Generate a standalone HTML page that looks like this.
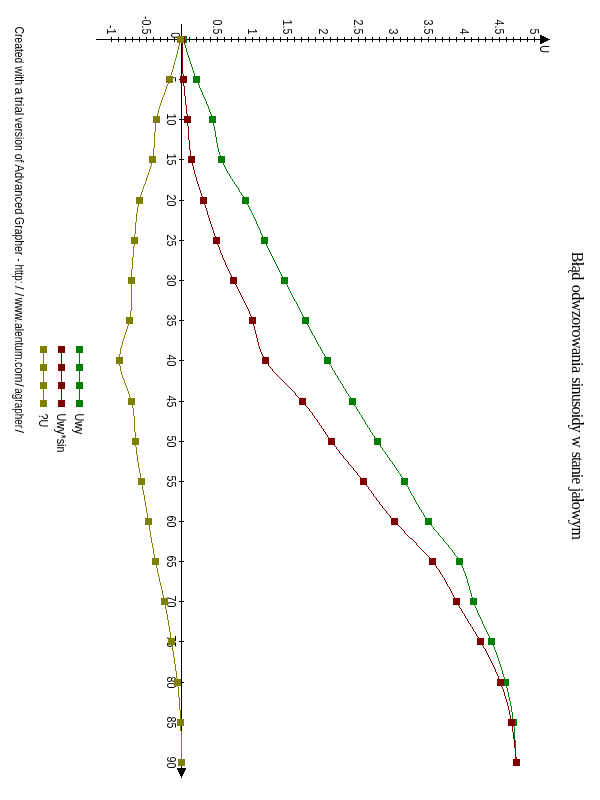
<!DOCTYPE html>
<html><head><meta charset="utf-8"><title>Graph</title>
<style>html,body{margin:0;padding:0;background:#fff;}body{width:600px;height:800px;overflow:hidden;}svg{display:block;will-change:transform;}text{font-family:"Liberation Sans",sans-serif;font-size:12.5px;fill:#000;}.ser{font-family:"Liberation Serif",serif;font-size:16px;}</style></head><body>
<svg width="600" height="800" viewBox="0 0 600 800">
<rect width="600" height="800" fill="#fff"/>
<g shape-rendering="crispEdges" fill="#000">
<rect x="96" y="39" width="454" height="1"/>
<rect x="181" y="24" width="1" height="754"/>
<rect x="111" y="37" width="1" height="5"/>
<rect x="118" y="37" width="1" height="5"/>
<rect x="125" y="37" width="1" height="5"/>
<rect x="132" y="37" width="1" height="5"/>
<rect x="139" y="37" width="1" height="5"/>
<rect x="146" y="37" width="1" height="5"/>
<rect x="153" y="37" width="1" height="5"/>
<rect x="160" y="37" width="1" height="5"/>
<rect x="167" y="37" width="1" height="5"/>
<rect x="174" y="37" width="1" height="5"/>
<rect x="189" y="37" width="1" height="5"/>
<rect x="196" y="37" width="1" height="5"/>
<rect x="203" y="37" width="1" height="5"/>
<rect x="210" y="37" width="1" height="5"/>
<rect x="217" y="37" width="1" height="5"/>
<rect x="224" y="37" width="1" height="5"/>
<rect x="231" y="37" width="1" height="5"/>
<rect x="238" y="37" width="1" height="5"/>
<rect x="245" y="37" width="1" height="5"/>
<rect x="252" y="37" width="1" height="5"/>
<rect x="259" y="37" width="1" height="5"/>
<rect x="266" y="37" width="1" height="5"/>
<rect x="273" y="37" width="1" height="5"/>
<rect x="280" y="37" width="1" height="5"/>
<rect x="287" y="37" width="1" height="5"/>
<rect x="294" y="37" width="1" height="5"/>
<rect x="301" y="37" width="1" height="5"/>
<rect x="308" y="37" width="1" height="5"/>
<rect x="315" y="37" width="1" height="5"/>
<rect x="323" y="37" width="1" height="5"/>
<rect x="330" y="37" width="1" height="5"/>
<rect x="337" y="37" width="1" height="5"/>
<rect x="344" y="37" width="1" height="5"/>
<rect x="351" y="37" width="1" height="5"/>
<rect x="358" y="37" width="1" height="5"/>
<rect x="365" y="37" width="1" height="5"/>
<rect x="372" y="37" width="1" height="5"/>
<rect x="379" y="37" width="1" height="5"/>
<rect x="386" y="37" width="1" height="5"/>
<rect x="393" y="37" width="1" height="5"/>
<rect x="400" y="37" width="1" height="5"/>
<rect x="407" y="37" width="1" height="5"/>
<rect x="414" y="37" width="1" height="5"/>
<rect x="421" y="37" width="1" height="5"/>
<rect x="428" y="37" width="1" height="5"/>
<rect x="435" y="37" width="1" height="5"/>
<rect x="442" y="37" width="1" height="5"/>
<rect x="449" y="37" width="1" height="5"/>
<rect x="456" y="37" width="1" height="5"/>
<rect x="464" y="37" width="1" height="5"/>
<rect x="471" y="37" width="1" height="5"/>
<rect x="478" y="37" width="1" height="5"/>
<rect x="485" y="37" width="1" height="5"/>
<rect x="492" y="37" width="1" height="5"/>
<rect x="499" y="37" width="1" height="5"/>
<rect x="506" y="37" width="1" height="5"/>
<rect x="513" y="37" width="1" height="5"/>
<rect x="520" y="37" width="1" height="5"/>
<rect x="527" y="37" width="1" height="5"/>
<rect x="534" y="37" width="1" height="5"/>
<rect x="179" y="79" width="5" height="1"/>
<rect x="179" y="119" width="5" height="1"/>
<rect x="179" y="159" width="5" height="1"/>
<rect x="179" y="200" width="5" height="1"/>
<rect x="179" y="240" width="5" height="1"/>
<rect x="179" y="280" width="5" height="1"/>
<rect x="179" y="320" width="5" height="1"/>
<rect x="179" y="360" width="5" height="1"/>
<rect x="179" y="401" width="5" height="1"/>
<rect x="179" y="441" width="5" height="1"/>
<rect x="179" y="481" width="5" height="1"/>
<rect x="179" y="521" width="5" height="1"/>
<rect x="179" y="561" width="5" height="1"/>
<rect x="179" y="601" width="5" height="1"/>
<rect x="179" y="641" width="5" height="1"/>
<rect x="179" y="682" width="5" height="1"/>
<rect x="179" y="722" width="5" height="1"/>
<rect x="179" y="762" width="5" height="1"/>
</g>
<path d="M540 35h2v1h2v1h2v1h2v1h2v1h-2v1h-2v1h-2v1h-2v1h-2z" fill="#000" shape-rendering="crispEdges"/>
<path d="M177 768v2h1v2h1v2h1v2h1v2h1v-2h1v-2h1v-2h1v-2h1v-2z" fill="#000" shape-rendering="crispEdges"/>
<text transform="translate(107,34.5) rotate(90) scale(0.86,1)" text-anchor="end">-1</text>
<text transform="translate(142,34.5) rotate(90) scale(0.86,1)" text-anchor="end">-0.5</text>
<text transform="translate(213,34.5) rotate(90) scale(0.86,1)" text-anchor="end">0.5</text>
<text transform="translate(248,34.5) rotate(90) scale(0.86,1)" text-anchor="end">1</text>
<text transform="translate(283,34.5) rotate(90) scale(0.86,1)" text-anchor="end">1.5</text>
<text transform="translate(319,34.5) rotate(90) scale(0.86,1)" text-anchor="end">2</text>
<text transform="translate(354,34.5) rotate(90) scale(0.86,1)" text-anchor="end">2.5</text>
<text transform="translate(389,34.5) rotate(90) scale(0.86,1)" text-anchor="end">3</text>
<text transform="translate(424,34.5) rotate(90) scale(0.86,1)" text-anchor="end">3.5</text>
<text transform="translate(460,34.5) rotate(90) scale(0.86,1)" text-anchor="end">4</text>
<text transform="translate(495,34.5) rotate(90) scale(0.86,1)" text-anchor="end">4.5</text>
<text transform="translate(530,34.5) rotate(90) scale(0.86,1)" text-anchor="end">5</text>
<text transform="translate(171,38.3) rotate(90) scale(0.86,1)" text-anchor="end">0</text>
<text transform="translate(540,45.3) rotate(90) scale(0.86,1)" text-anchor="start">U</text>
<text transform="translate(167,79.5) rotate(90) scale(0.86,1)" text-anchor="middle">5</text>
<text transform="translate(167,119.5) rotate(90) scale(0.86,1)" text-anchor="middle">10</text>
<text transform="translate(167,159.5) rotate(90) scale(0.86,1)" text-anchor="middle">15</text>
<text transform="translate(167,200.5) rotate(90) scale(0.86,1)" text-anchor="middle">20</text>
<text transform="translate(167,240.5) rotate(90) scale(0.86,1)" text-anchor="middle">25</text>
<text transform="translate(167,280.5) rotate(90) scale(0.86,1)" text-anchor="middle">30</text>
<text transform="translate(167,320.5) rotate(90) scale(0.86,1)" text-anchor="middle">35</text>
<text transform="translate(167,360.5) rotate(90) scale(0.86,1)" text-anchor="middle">40</text>
<text transform="translate(167,401.5) rotate(90) scale(0.86,1)" text-anchor="middle">45</text>
<text transform="translate(167,441.5) rotate(90) scale(0.86,1)" text-anchor="middle">50</text>
<text transform="translate(167,481.5) rotate(90) scale(0.86,1)" text-anchor="middle">55</text>
<text transform="translate(167,521.5) rotate(90) scale(0.86,1)" text-anchor="middle">60</text>
<text transform="translate(167,561.5) rotate(90) scale(0.86,1)" text-anchor="middle">65</text>
<text transform="translate(167,601.5) rotate(90) scale(0.86,1)" text-anchor="middle">70</text>
<text transform="translate(167,641.5) rotate(90) scale(0.86,1)" text-anchor="middle">75</text>
<text transform="translate(167,682.5) rotate(90) scale(0.86,1)" text-anchor="middle">80</text>
<text transform="translate(167,722.5) rotate(90) scale(0.86,1)" text-anchor="middle">85</text>
<text transform="translate(167,762.5) rotate(90) scale(0.86,1)" text-anchor="middle">90</text>
<path d="M183.5 39v2M184.5 41v4M185.5 45v3M186.5 48v4M187.5 52v3M188.5 55v3M189.5 58v3M190.5 61v3M191.5 64v3M192.5 67v3M193.5 70v3M194.5 73v3M195.5 76v2M196.5 78v3M197.5 81v2M198.5 83v2M199.5 85v3M200.5 88v2M201.5 90v2M202.5 92v3M203.5 95v2M204.5 97v2M205.5 99v2M206.5 101v3M207.5 104v2M208.5 106v3M209.5 109v3M210.5 112v2M211.5 114v4M212.5 118v3M213.5 121v5M214.5 126v5M215.5 131v6M216.5 137v6M217.5 143v5M218.5 148v4M219.5 152v3M220.5 155v3M221.5 158v3M222.5 161v2M223.5 163v2M224.5 165v2M225.5 167v2M226.5 169v2M227.5 171v2M228.5 173v1M229.5 174v2M230.5 176v2M231.5 178v1M232.5 179v2M233.5 181v1M234.5 182v2M235.5 184v1M236.5 185v2M237.5 187v1M238.5 188v2M239.5 190v2M240.5 192v1M241.5 193v2M242.5 195v1M243.5 196v2M244.5 198v2M245.5 200v1M246.5 201v2M247.5 203v2M248.5 205v2M249.5 207v2M250.5 209v2M251.5 211v2M252.5 213v2M253.5 215v2M254.5 217v2M255.5 219v2M256.5 221v3M257.5 224v2M258.5 226v2M259.5 228v2M260.5 230v3M261.5 233v2M262.5 235v2M263.5 237v2M264.5 239v3M265.5 242v2M266.5 244v2M267.5 246v2M268.5 248v2M269.5 250v2M270.5 252v2M271.5 254v2M272.5 256v2M273.5 258v2M274.5 260v2M275.5 262v2M276.5 264v2M277.5 266v2M278.5 268v2M279.5 270v2M280.5 272v2M281.5 274v2M282.5 276v2M283.5 278v2M284.5 280v1M285.5 281v2M286.5 283v2M287.5 285v2M288.5 287v2M289.5 289v2M290.5 291v2M291.5 293v2M292.5 295v2M293.5 297v2M294.5 299v2M295.5 301v1M296.5 302v2M297.5 304v2M298.5 306v2M299.5 308v2M300.5 310v2M301.5 312v2M302.5 314v2M303.5 316v2M304.5 318v2M305.5 320v1M306.5 321v2M307.5 323v2M308.5 325v2M309.5 327v2M310.5 329v2M311.5 331v2M312.5 333v2M313.5 335v1M314.5 336v2M315.5 338v2M316.5 340v2M317.5 342v2M318.5 344v2M319.5 346v1M320.5 347v2M321.5 349v2M322.5 351v2M323.5 353v1M324.5 354v2M325.5 356v2M326.5 358v2M327.5 360v1M328.5 361v2M329.5 363v2M330.5 365v1M331.5 366v2M332.5 368v2M333.5 370v1M334.5 371v2M335.5 373v2M336.5 375v1M337.5 376v2M338.5 378v2M339.5 380v1M340.5 381v2M341.5 383v1M342.5 384v2M343.5 386v2M344.5 388v1M345.5 389v2M346.5 391v2M347.5 393v1M348.5 394v2M349.5 396v1M350.5 397v2M351.5 399v2M352.5 401v1M353.5 402v2M354.5 404v2M355.5 406v1M356.5 407v2M357.5 409v2M358.5 411v1M359.5 412v2M360.5 414v1M361.5 415v2M362.5 417v2M363.5 419v1M364.5 420v2M365.5 422v2M366.5 424v1M367.5 425v2M368.5 427v1M369.5 428v2M370.5 430v2M371.5 432v1M372.5 433v2M373.5 435v1M374.5 436v2M375.5 438v1M376.5 439v2M377.5 441v1M378.5 442v2M379.5 444v1M380.5 445v2M381.5 447v1M382.5 448v2M383.5 450v1M384.5 451v1M385.5 452v2M386.5 454v1M387.5 455v2M388.5 457v1M389.5 458v2M390.5 460v1M391.5 461v1M392.5 462v2M393.5 464v1M394.5 465v2M395.5 467v1M396.5 468v2M397.5 470v1M398.5 471v2M399.5 473v1M400.5 474v2M401.5 476v1M402.5 477v2M403.5 479v2M404.5 481v1M405.5 482v2M406.5 484v2M407.5 486v1M408.5 487v2M409.5 489v2M410.5 491v2M411.5 493v2M412.5 495v1M413.5 496v2M414.5 498v2M415.5 500v2M416.5 502v2M417.5 504v1M418.5 505v2M419.5 507v2M420.5 509v1M421.5 510v2M422.5 512v1M423.5 513v2M424.5 515v2M425.5 517v1M426.5 518v1M427.5 519v2M428.5 521v1M429.5 522v1M430.5 523v2M431.5 525v1M432.5 526v1M433.5 527v2M434.5 529v1M435.5 530v1M436.5 531v1M437.5 532v1M438.5 533v2M439.5 535v1M440.5 536v1M441.5 537v1M442.5 538v1M443.5 539v2M444.5 541v1M445.5 542v1M446.5 543v1M447.5 544v1M448.5 545v2M449.5 547v1M450.5 548v1M451.5 549v1M452.5 550v2M453.5 552v1M454.5 553v2M455.5 555v1M456.5 556v1M457.5 557v2M458.5 559v2M459.5 561v1M460.5 562v2M461.5 564v2M462.5 566v2M463.5 568v3M464.5 571v2M465.5 573v3M466.5 576v3M467.5 579v4M468.5 583v3M469.5 586v4M470.5 590v3M471.5 593v4M472.5 597v3M473.5 600v3M474.5 603v3M475.5 606v2M476.5 608v2M477.5 610v3M478.5 613v2M479.5 615v2M480.5 617v2M481.5 619v2M482.5 621v3M483.5 624v2M484.5 626v2M485.5 628v2M486.5 630v2M487.5 632v2M488.5 634v2M489.5 636v2M490.5 638v2M491.5 640v3M492.5 643v2M493.5 645v2M494.5 647v3M495.5 650v2M496.5 652v3M497.5 655v3M498.5 658v3M499.5 661v3M500.5 664v3M501.5 667v3M502.5 670v4M503.5 674v3M504.5 677v4M505.5 681v3M506.5 684v4M507.5 688v4M508.5 692v5M509.5 697v4M510.5 701v5M511.5 706v6M512.5 712v7M513.5 719v8M514.5 727v13M515.5 740v23" fill="none" stroke="#008000" stroke-width="1" shape-rendering="crispEdges"/>
<rect x="180" y="36" width="7" height="7" fill="#008000" shape-rendering="crispEdges"/>
<rect x="193" y="76" width="7" height="7" fill="#008000" shape-rendering="crispEdges"/>
<rect x="209" y="116" width="7" height="7" fill="#008000" shape-rendering="crispEdges"/>
<rect x="218" y="156" width="7" height="7" fill="#008000" shape-rendering="crispEdges"/>
<rect x="242" y="197" width="7" height="7" fill="#008000" shape-rendering="crispEdges"/>
<rect x="261" y="237" width="7" height="7" fill="#008000" shape-rendering="crispEdges"/>
<rect x="281" y="277" width="7" height="7" fill="#008000" shape-rendering="crispEdges"/>
<rect x="302" y="317" width="7" height="7" fill="#008000" shape-rendering="crispEdges"/>
<rect x="324" y="357" width="7" height="7" fill="#008000" shape-rendering="crispEdges"/>
<rect x="349" y="398" width="7" height="7" fill="#008000" shape-rendering="crispEdges"/>
<rect x="374" y="438" width="7" height="7" fill="#008000" shape-rendering="crispEdges"/>
<rect x="401" y="478" width="7" height="7" fill="#008000" shape-rendering="crispEdges"/>
<rect x="425" y="518" width="7" height="7" fill="#008000" shape-rendering="crispEdges"/>
<rect x="456" y="558" width="7" height="7" fill="#008000" shape-rendering="crispEdges"/>
<rect x="470" y="598" width="7" height="7" fill="#008000" shape-rendering="crispEdges"/>
<rect x="488" y="638" width="7" height="7" fill="#008000" shape-rendering="crispEdges"/>
<rect x="502" y="679" width="7" height="7" fill="#008000" shape-rendering="crispEdges"/>
<rect x="510" y="719" width="7" height="7" fill="#008000" shape-rendering="crispEdges"/>
<rect x="513" y="759" width="7" height="7" fill="#008000" shape-rendering="crispEdges"/>
<path d="M182.5 39v35M183.5 74v12M184.5 86v10M185.5 96v9M186.5 105v9M187.5 114v12M188.5 126v14M189.5 140v10M190.5 150v7M191.5 157v5M192.5 162v4M193.5 166v4M194.5 170v4M195.5 174v3M196.5 177v4M197.5 181v3M198.5 184v3M199.5 187v3M200.5 190v3M201.5 193v3M202.5 196v3M203.5 199v3M204.5 202v3M205.5 205v3M206.5 208v3M207.5 211v4M208.5 215v3M209.5 218v3M210.5 221v3M211.5 224v3M212.5 227v3M213.5 230v3M214.5 233v3M215.5 236v3M216.5 239v3M217.5 242v3M218.5 245v2M219.5 247v3M220.5 250v3M221.5 253v2M222.5 255v3M223.5 258v2M224.5 260v2M225.5 262v3M226.5 265v2M227.5 267v2M228.5 269v2M229.5 271v2M230.5 273v2M231.5 275v2M232.5 277v3M233.5 280v1M234.5 281v2M235.5 283v2M236.5 285v2M237.5 287v2M238.5 289v2M239.5 291v2M240.5 293v2M241.5 295v2M242.5 297v2M243.5 299v2M244.5 301v2M245.5 303v2M246.5 305v2M247.5 307v2M248.5 309v2M249.5 311v3M250.5 314v2M251.5 316v3M252.5 319v3M253.5 322v4M254.5 326v4M255.5 330v4M256.5 334v4M257.5 338v4M258.5 342v4M259.5 346v3M260.5 349v3M261.5 352v2M262.5 354v2M263.5 356v2M264.5 358v2M265.5 360v1M266.5 361v2M267.5 363v1M268.5 364v2M269.5 366v1M270.5 367v1M271.5 368v1M272.5 369v2M273.5 371v1M274.5 372v1M275.5 373v1M276.5 374v1M277.5 375v1M278.5 376v1M279.5 377v1M280.5 378v1M281.5 379v1M282.5 380v1M283.5 381v1M284.5 382v1M285.5 383v1M286.5 384v1M287.5 385v1M288.5 386v1M289.5 387v1M290.5 388v1M291.5 389v1M292.5 390v1M293.5 391v1M294.5 392v1M295.5 393v2M296.5 395v1M297.5 396v1M298.5 397v1M299.5 398v1M300.5 399v1M301.5 400v1M302.5 401v1M303.5 402v1M304.5 403v1M305.5 404v2M306.5 406v1M307.5 407v1M308.5 408v1M309.5 409v2M310.5 411v1M311.5 412v1M312.5 413v2M313.5 415v1M314.5 416v2M315.5 418v1M316.5 419v1M317.5 420v2M318.5 422v1M319.5 423v2M320.5 425v1M321.5 426v2M322.5 428v1M323.5 429v2M324.5 431v1M325.5 432v2M326.5 434v1M327.5 435v2M328.5 437v1M329.5 438v1M330.5 439v2M331.5 441v1M332.5 442v2M333.5 444v1M334.5 445v1M335.5 446v1M336.5 447v2M337.5 449v1M338.5 450v1M339.5 451v2M340.5 453v1M341.5 454v1M342.5 455v1M343.5 456v2M344.5 458v1M345.5 459v1M346.5 460v1M347.5 461v1M348.5 462v2M349.5 464v1M350.5 465v1M351.5 466v1M352.5 467v1M353.5 468v2M354.5 470v1M355.5 471v1M356.5 472v1M357.5 473v2M358.5 475v1M359.5 476v1M360.5 477v1M361.5 478v2M362.5 480v1M363.5 481v1M364.5 482v1M365.5 483v2M366.5 485v1M367.5 486v1M368.5 487v2M369.5 489v1M370.5 490v1M371.5 491v2M372.5 493v1M373.5 494v2M374.5 496v1M375.5 497v1M376.5 498v2M377.5 500v1M378.5 501v1M379.5 502v2M380.5 504v1M381.5 505v1M382.5 506v2M383.5 508v1M384.5 509v1M385.5 510v1M386.5 511v2M387.5 513v1M388.5 514v1M389.5 515v1M390.5 516v2M391.5 518v1M392.5 519v1M393.5 520v1M394.5 521v1M395.5 522v1M396.5 523v1M397.5 524v1M398.5 525v1M399.5 526v1M400.5 527v1M401.5 528v1M402.5 529v1M403.5 530v1M404.5 531v2M405.5 533v1M406.5 534v1M407.5 535v1M408.5 536v1M409.5 537v1M410.5 538v1M411.5 538v1M412.5 539v1M413.5 540v1M414.5 541v1M415.5 542v1M416.5 543v2M417.5 545v1M418.5 546v1M419.5 547v1M420.5 548v1M421.5 549v1M422.5 550v1M423.5 551v1M424.5 552v1M425.5 553v1M426.5 554v1M427.5 555v1M428.5 556v1M429.5 557v1M430.5 558v2M431.5 560v1M432.5 561v1M433.5 562v1M434.5 563v2M435.5 565v1M436.5 566v2M437.5 568v1M438.5 569v1M439.5 570v2M440.5 572v2M441.5 574v1M442.5 575v2M443.5 577v1M444.5 578v2M445.5 580v2M446.5 582v2M447.5 584v2M448.5 586v1M449.5 587v2M450.5 589v2M451.5 591v2M452.5 593v2M453.5 595v2M454.5 597v2M455.5 599v2M456.5 601v1M457.5 602v2M458.5 604v2M459.5 606v2M460.5 608v1M461.5 609v2M462.5 611v2M463.5 613v1M464.5 614v2M465.5 616v2M466.5 618v1M467.5 619v2M468.5 621v2M469.5 623v1M470.5 624v2M471.5 626v1M472.5 627v2M473.5 629v2M474.5 631v1M475.5 632v2M476.5 634v2M477.5 636v1M478.5 637v2M479.5 639v2M480.5 641v1M481.5 642v2M482.5 644v2M483.5 646v2M484.5 648v1M485.5 649v2M486.5 651v2M487.5 653v2M488.5 655v2M489.5 657v2M490.5 659v2M491.5 661v2M492.5 663v2M493.5 665v2M494.5 667v2M495.5 669v3M496.5 672v2M497.5 674v2M498.5 676v3M499.5 679v2M500.5 681v3M501.5 684v3M502.5 687v2M503.5 689v3M504.5 692v4M505.5 696v3M506.5 699v3M507.5 702v4M508.5 706v4M509.5 710v5M510.5 715v5M511.5 720v5M512.5 725v7M513.5 732v7M514.5 739v9M515.5 748v9M516.5 757v6" fill="none" stroke="#800000" stroke-width="1" shape-rendering="crispEdges"/>
<rect x="178" y="36" width="7" height="7" fill="#800000" shape-rendering="crispEdges"/>
<rect x="180" y="76" width="7" height="7" fill="#800000" shape-rendering="crispEdges"/>
<rect x="184" y="116" width="7" height="7" fill="#800000" shape-rendering="crispEdges"/>
<rect x="188" y="156" width="7" height="7" fill="#800000" shape-rendering="crispEdges"/>
<rect x="200" y="197" width="7" height="7" fill="#800000" shape-rendering="crispEdges"/>
<rect x="213" y="237" width="7" height="7" fill="#800000" shape-rendering="crispEdges"/>
<rect x="230" y="277" width="7" height="7" fill="#800000" shape-rendering="crispEdges"/>
<rect x="249" y="317" width="7" height="7" fill="#800000" shape-rendering="crispEdges"/>
<rect x="262" y="357" width="7" height="7" fill="#800000" shape-rendering="crispEdges"/>
<rect x="299" y="398" width="7" height="7" fill="#800000" shape-rendering="crispEdges"/>
<rect x="328" y="438" width="7" height="7" fill="#800000" shape-rendering="crispEdges"/>
<rect x="360" y="478" width="7" height="7" fill="#800000" shape-rendering="crispEdges"/>
<rect x="391" y="518" width="7" height="7" fill="#800000" shape-rendering="crispEdges"/>
<rect x="429" y="558" width="7" height="7" fill="#800000" shape-rendering="crispEdges"/>
<rect x="453" y="598" width="7" height="7" fill="#800000" shape-rendering="crispEdges"/>
<rect x="477" y="638" width="7" height="7" fill="#800000" shape-rendering="crispEdges"/>
<rect x="497" y="679" width="7" height="7" fill="#800000" shape-rendering="crispEdges"/>
<rect x="508" y="719" width="7" height="7" fill="#800000" shape-rendering="crispEdges"/>
<rect x="513" y="759" width="7" height="7" fill="#800000" shape-rendering="crispEdges"/>
<path d="M119.5 354v12M120.5 348v6M120.5 366v5M121.5 345v3M121.5 371v4M122.5 341v4M122.5 375v3M123.5 338v3M123.5 378v2M124.5 335v3M124.5 380v3M125.5 332v3M125.5 383v3M126.5 329v3M126.5 386v2M127.5 326v3M127.5 388v3M128.5 323v3M128.5 391v3M129.5 318v5M129.5 394v3M130.5 311v7M130.5 397v3M131.5 269v42M131.5 400v3M132.5 257v12M132.5 403v5M133.5 246v11M133.5 408v8M134.5 234v12M134.5 416v16M135.5 222v12M135.5 432v15M136.5 213v9M136.5 447v8M137.5 207v6M137.5 455v7M138.5 203v4M138.5 462v6M139.5 199v4M139.5 468v5M140.5 195v4M140.5 473v6M141.5 192v3M141.5 479v5M142.5 189v3M142.5 484v6M143.5 186v3M143.5 490v5M144.5 184v2M144.5 495v6M145.5 181v3M145.5 501v6M146.5 178v3M146.5 507v6M147.5 175v3M147.5 513v5M148.5 172v3M148.5 518v7M149.5 169v3M149.5 525v6M150.5 166v3M150.5 531v6M151.5 162v4M151.5 537v6M152.5 157v5M152.5 543v5M153.5 148v9M153.5 548v6M154.5 132v16M154.5 554v5M155.5 123v9M155.5 559v5M156.5 117v6M156.5 564v4M157.5 113v4M157.5 568v5M158.5 109v4M158.5 573v4M159.5 106v3M159.5 577v5M160.5 103v3M160.5 582v4M161.5 100v3M161.5 586v4M162.5 97v3M162.5 590v5M163.5 95v2M163.5 595v4M164.5 92v3M164.5 599v5M165.5 89v3M165.5 604v5M166.5 86v3M166.5 609v5M167.5 84v2M167.5 614v6M168.5 81v3M168.5 620v6M169.5 78v3M169.5 626v6M170.5 75v3M170.5 632v6M171.5 72v3M171.5 638v7M172.5 69v3M172.5 645v6M173.5 65v4M173.5 651v6M174.5 61v4M174.5 657v7M175.5 58v3M175.5 664v7M176.5 54v4M176.5 671v7M177.5 50v4M177.5 678v9M178.5 46v4M178.5 687v10M179.5 42v4M179.5 697v13M180.5 39v3M180.5 710v21M181.5 731v32" fill="none" stroke="#808000" stroke-width="1" shape-rendering="crispEdges"/>
<rect x="177" y="36" width="7" height="7" fill="#808000" shape-rendering="crispEdges"/>
<rect x="166" y="76" width="7" height="7" fill="#808000" shape-rendering="crispEdges"/>
<rect x="153" y="116" width="7" height="7" fill="#808000" shape-rendering="crispEdges"/>
<rect x="149" y="156" width="7" height="7" fill="#808000" shape-rendering="crispEdges"/>
<rect x="136" y="197" width="7" height="7" fill="#808000" shape-rendering="crispEdges"/>
<rect x="131" y="237" width="7" height="7" fill="#808000" shape-rendering="crispEdges"/>
<rect x="128" y="277" width="7" height="7" fill="#808000" shape-rendering="crispEdges"/>
<rect x="126" y="317" width="7" height="7" fill="#808000" shape-rendering="crispEdges"/>
<rect x="116" y="357" width="7" height="7" fill="#808000" shape-rendering="crispEdges"/>
<rect x="128" y="398" width="7" height="7" fill="#808000" shape-rendering="crispEdges"/>
<rect x="132" y="438" width="7" height="7" fill="#808000" shape-rendering="crispEdges"/>
<rect x="138" y="478" width="7" height="7" fill="#808000" shape-rendering="crispEdges"/>
<rect x="145" y="518" width="7" height="7" fill="#808000" shape-rendering="crispEdges"/>
<rect x="152" y="558" width="7" height="7" fill="#808000" shape-rendering="crispEdges"/>
<rect x="161" y="598" width="7" height="7" fill="#808000" shape-rendering="crispEdges"/>
<rect x="168" y="638" width="7" height="7" fill="#808000" shape-rendering="crispEdges"/>
<rect x="174" y="679" width="7" height="7" fill="#808000" shape-rendering="crispEdges"/>
<rect x="177" y="719" width="7" height="7" fill="#808000" shape-rendering="crispEdges"/>
<rect x="178" y="759" width="7" height="7" fill="#808000" shape-rendering="crispEdges"/>
<rect x="79" y="349" width="1" height="55" fill="#008000" shape-rendering="crispEdges"/>
<rect x="76" y="346" width="7" height="7" fill="#008000" shape-rendering="crispEdges"/>
<rect x="76" y="364" width="7" height="7" fill="#008000" shape-rendering="crispEdges"/>
<rect x="76" y="382" width="7" height="7" fill="#008000" shape-rendering="crispEdges"/>
<rect x="76" y="400" width="7" height="7" fill="#008000" shape-rendering="crispEdges"/>
<text transform="translate(75,413.6) rotate(90) scale(0.86,1)" text-anchor="start">Uwy</text>
<rect x="61" y="349" width="1" height="55" fill="#800000" shape-rendering="crispEdges"/>
<rect x="58" y="346" width="7" height="7" fill="#800000" shape-rendering="crispEdges"/>
<rect x="58" y="364" width="7" height="7" fill="#800000" shape-rendering="crispEdges"/>
<rect x="58" y="382" width="7" height="7" fill="#800000" shape-rendering="crispEdges"/>
<rect x="58" y="400" width="7" height="7" fill="#800000" shape-rendering="crispEdges"/>
<text transform="translate(57,413.6) rotate(90) scale(0.86,1)" text-anchor="start">Uwy*sin</text>
<rect x="43" y="349" width="1" height="55" fill="#808000" shape-rendering="crispEdges"/>
<rect x="40" y="346" width="7" height="7" fill="#808000" shape-rendering="crispEdges"/>
<rect x="40" y="364" width="7" height="7" fill="#808000" shape-rendering="crispEdges"/>
<rect x="40" y="382" width="7" height="7" fill="#808000" shape-rendering="crispEdges"/>
<rect x="40" y="400" width="7" height="7" fill="#808000" shape-rendering="crispEdges"/>
<text transform="translate(39,413.6) rotate(90) scale(0.86,1)" text-anchor="start">?U</text>
<text transform="translate(15,0) rotate(90)"><tspan x="26.4" textLength="37.0" lengthAdjust="spacingAndGlyphs">Created</tspan> <tspan x="66.3" textLength="18.8" lengthAdjust="spacingAndGlyphs">with</tspan> <tspan x="87.5" textLength="6.9" lengthAdjust="spacingAndGlyphs">a</tspan> <tspan x="96.8" textLength="18.6" lengthAdjust="spacingAndGlyphs">trial</tspan> <tspan x="117.5" textLength="33.3" lengthAdjust="spacingAndGlyphs">version</tspan> <tspan x="153.8" textLength="8.7" lengthAdjust="spacingAndGlyphs">of</tspan> <tspan x="164.5" textLength="50.1" lengthAdjust="spacingAndGlyphs">Advanced</tspan> <tspan x="217.1" textLength="38.1" lengthAdjust="spacingAndGlyphs">Grapher</tspan> <tspan x="258.4" textLength="3.1" lengthAdjust="spacingAndGlyphs">-</tspan> <tspan x="264.4" textLength="19.2" lengthAdjust="spacingAndGlyphs">http:</tspan><tspan x="285.9">/</tspan><tspan x="292.7">/</tspan><tspan x="297.8" textLength="24.7" lengthAdjust="spacingAndGlyphs">www.</tspan><tspan x="323.0" textLength="36.5" lengthAdjust="spacingAndGlyphs">alentum</tspan><tspan x="359.1" textLength="23.4" lengthAdjust="spacingAndGlyphs">.com</tspan><tspan x="383.3">/</tspan><tspan x="388.3" textLength="39.8" lengthAdjust="spacingAndGlyphs">agrapher</tspan><tspan x="429.5">/</tspan></text>
<text class="ser" transform="translate(572,0) rotate(90)"><tspan x="251.7" textLength="28.6" lengthAdjust="spacing">Błąd</tspan> <tspan x="284.7" textLength="88.3" lengthAdjust="spacing">odwzorowania</tspan> <tspan x="377.2" textLength="55.6" lengthAdjust="spacing">sinusoidy</tspan> <tspan x="436.0" textLength="11.2" lengthAdjust="spacing">w</tspan> <tspan x="451.7" textLength="32.6" lengthAdjust="spacing">stanie</tspan> <tspan x="487.7" textLength="52.2" lengthAdjust="spacing">jałowym</tspan></text>
</svg></body></html>
